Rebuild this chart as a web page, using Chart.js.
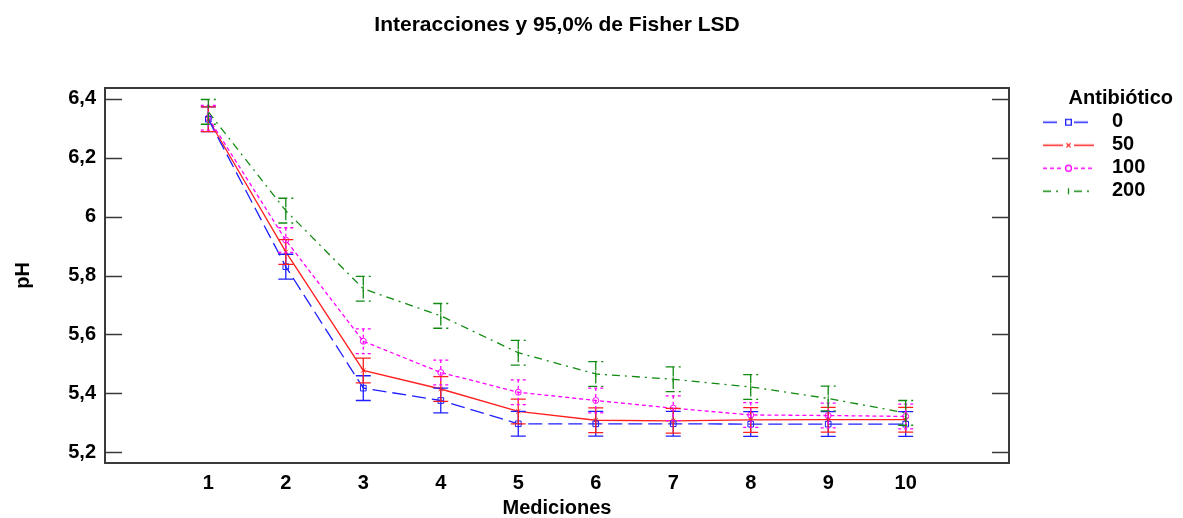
<!DOCTYPE html>
<html>
<head>
<meta charset="utf-8">
<script src="https://cdn.jsdelivr.net/npm/chart.js@4.4.0/dist/chart.umd.min.js"></script>
<style>
  html, body { margin: 0; padding: 0; background: #fff; }
</style>
</head>
<body>
<canvas id="chart" width="1183" height="518"></canvas>
<script>
// data
const mediciones = [1, 2, 3, 4, 5, 6, 7, 8, 9, 10];
const antibiotico = ['0', '50', '100', '200'];
const ph0   = [6.330, 5.830, 5.418, 5.376, 5.297, 5.297, 5.297, 5.296, 5.296, 5.296];
const ph50  = [6.330, 5.880, 5.478, 5.415, 5.339, 5.309, 5.307, 5.310, 5.311, 5.311];
const ph100 = [6.335, 5.920, 5.577, 5.471, 5.404, 5.376, 5.350, 5.327, 5.325, 5.322];
const ph200 = [6.355, 6.020, 5.755, 5.663, 5.538, 5.466, 5.448, 5.422, 5.383, 5.334];
const lsdHalf = 0.042;  // half width of the Fisher LSD interval
const yTicks = [5.2, 5.4, 5.6, 5.8, 6, 6.2, 6.4];

const series = [ph0, ph50, ph100, ph200];

const styles = [
  { color: '#1f1fff', dash: [14, 6],        barDash: [],     point: 'rect',     rot: 0,  r: 4 },
  { color: '#ff1f1f', dash: [],             barDash: [],     point: 'crossRot', rot: 0,  r: 3 },
  { color: '#ff00ff', dash: [4, 3],         barDash: [3, 3], point: 'circle',   rot: 0,  r: 3 },
  { color: '#108a10', dash: [8, 5, 2, 5],   barDash: [9, 4], point: 'line',     rot: 90, r: 3 }
];

Chart.defaults.font.family = "'Liberation Sans', Arial, sans-serif";
Chart.defaults.color = '#000';

// little line + marker picture for each legend entry
function legendSample(s) {
  const c = document.createElement('canvas');
  c.width = 90; c.height = 14;
  const g = c.getContext('2d');
  g.strokeStyle = s.color;
  g.lineWidth = 1.3;
  g.setLineDash(s.dash);
  g.beginPath();
  g.moveTo(31, 7.5); g.lineTo(51, 7.5);
  g.moveTo(62, 7.5); g.lineTo(82, 7.5);
  g.stroke();
  g.setLineDash([]);
  g.fillStyle = '#fff';
  Chart.helpers.drawPoint(g, { pointStyle: s.point, radius: s.r, rotation: s.rot, borderWidth: 1 }, 56.5, 7.5);
  return c;
}
const samples = styles.map(legendSample);

const errorBars = {
  id: 'errorBars',
  afterDatasetsDraw(chart) {
    const { ctx, scales: { y } } = chart;
    ctx.save();
    chart.data.datasets.forEach((ds, i) => {
      const meta = chart.getDatasetMeta(i);
      ctx.strokeStyle = ds.borderColor;
      ctx.lineWidth = 1.3;
      ctx.setLineDash(styles[i].barDash);
      meta.data.forEach((pt, j) => {
        const v = ds.data[j].y;
        const yTop = y.getPixelForValue(v + lsdHalf);
        const yBot = y.getPixelForValue(v - lsdHalf);
        ctx.beginPath();
        ctx.moveTo(pt.x, yTop); ctx.lineTo(pt.x, yBot);
        ctx.moveTo(pt.x - 7.5, yTop); ctx.lineTo(pt.x + 7.5, yTop);
        ctx.moveTo(pt.x - 7.5, yBot); ctx.lineTo(pt.x + 7.5, yBot);
        ctx.stroke();
      });
    });
    ctx.restore();
  }
};

// box round the plot with inward ticks on both sides
const frame = {
  id: 'frame',
  afterDraw(chart) {
    const { ctx, chartArea: a, scales: { y } } = chart;
    ctx.save();
    ctx.strokeStyle = '#3a3a3a';
    ctx.lineWidth = 2;
    ctx.strokeRect(a.left, a.top, a.right - a.left, a.bottom - a.top);
    ctx.lineWidth = 1.5;
    ctx.beginPath();
    y.ticks.forEach(t => {
      const py = Math.round(y.getPixelForValue(t.value)) + 0.5;
      ctx.moveTo(a.left, py); ctx.lineTo(a.left + 17, py);
      ctx.moveTo(a.right - 17, py); ctx.lineTo(a.right, py);
    });
    ctx.stroke();
    ctx.restore();
  }
};

const datasets = series.map((vals, i) => ({
  label: antibiotico[i],
  data: vals.map((v, j) => ({ x: mediciones[j], y: v })),
  borderColor: styles[i].color,
  backgroundColor: 'rgba(255,255,255,0)',
  borderWidth: 1.3,
  borderDash: styles[i].dash,
  pointStyle: styles[i].point,
  pointRotation: styles[i].rot,
  pointRadius: styles[i].r,
  pointBorderWidth: 1,
  tension: 0
}));

new Chart(document.getElementById('chart'), {
  type: 'line',
  data: { datasets },
  options: {
    responsive: false,
    animation: false,
    devicePixelRatio: 1,
    layout: { padding: { top: 0, right: 10, bottom: 0, left: 0 } },
    scales: {
      x: {
        type: 'linear',
        min: -1 / 3,
        max: 11 + 1 / 3,
        afterBuildTicks: s => { s.ticks = mediciones.map(v => ({ value: v })); },
        afterFit: s => { s.height = 55; },
        grid: { display: false, drawTicks: false },
        border: { display: false },
        ticks: { font: { size: 20, weight: 'bold' }, padding: 8.5, color: '#000', maxRotation: 0 },
        title: { display: true, text: 'Mediciones', color: '#000',
                 font: { size: 20, weight: 'bold', lineHeight: 1 }, padding: { top: 0, bottom: 0 } }
      },
      y: {
        min: 5.164,
        max: 6.436,
        afterBuildTicks: s => { s.ticks = yTicks.map(v => ({ value: v })); },
        afterFit: s => { s.width = 105; },
        grid: { display: false, drawTicks: false },
        border: { display: false },
        ticks: { font: { size: 20, weight: 'bold' }, padding: 9, color: '#000',
                 callback: v => String(v).replace('.', ',') },
        title: { display: true, text: 'pH', color: '#000',
                 font: { size: 20, weight: 'bold', lineHeight: 1 }, padding: { top: 13, bottom: 0 } }
      }
    },
    plugins: {
      title: {
        display: true,
        text: 'Interacciones y 95,0% de Fisher LSD',
        fullSize: false,
        color: '#000',
        font: { size: 21, weight: 'bold', lineHeight: 1 },
        padding: { top: 14.5, bottom: 52.5 }
      },
      legend: {
        position: 'right',
        align: 'start',
        fullSize: false,
        maxWidth: 164,
        title: {
          display: true,
          text: 'Antibiótico',
          position: 'end',
          color: '#000',
          font: { size: 20, weight: 'bold', lineHeight: 1 },
          padding: { top: 0, bottom: 0.7 }
        },
        labels: {
          usePointStyle: true,
          pointStyleWidth: 90,
          padding: 3,
          color: '#000',
          font: { size: 20, weight: 'bold' },
          // trailing spaces only widen the legend box so the title lines up at its right edge
          generateLabels: chart => chart.data.datasets.map((ds, i) => ({
            text: ds.label + '      ',
            pointStyle: samples[i],
            datasetIndex: i,
            hidden: false,
            fillStyle: 'transparent',
            strokeStyle: 'transparent',
            lineWidth: 0
          }))
        }
      },
      tooltip: { enabled: false }
    }
  },
  plugins: [errorBars, frame]
});
</script>
</body>
</html>
